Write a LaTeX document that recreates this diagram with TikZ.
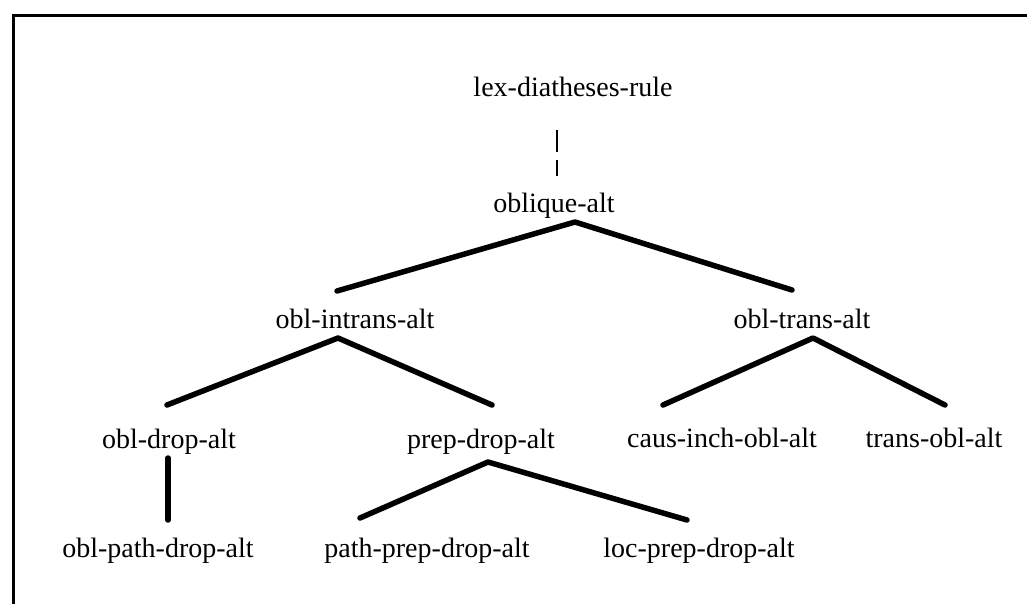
\documentclass[tikz,border=0pt]{standalone}
\usepackage{fontspec}
\setmainfont{Liberation Serif}
\begin{document}
\begin{tikzpicture}[x=1pt,y=-1pt,
  lbl/.style={inner sep=0pt,anchor=base,font=\fontsize{28}{30}\selectfont},
  edge/.style={line width=5.5pt,line cap=round,line join=round},
  thinedge/.style={line width=2pt,dash pattern=on 22pt off 8pt},
  frame/.style={line width=3pt}]
\useasboundingbox (0,0) rectangle (1027,604);
% frame (top and left edges)
\coordinate (ftr) at (1030,16);
\coordinate (ftl) at (13,16);
\coordinate (fbl) at (13,607);
\draw[frame] (ftr) -- (ftl) -- (fbl);
% nodes
\node[lbl] (lex) at (573,97) {lex-diatheses-rule};
\node[lbl] (obl) at (554,212) {oblique-alt};
\node[lbl] (intr) at (355,328) {obl-intrans-alt};
\node[lbl] (tr) at (802,328) {obl-trans-alt};
\node[lbl] (drop) at (169,448) {obl-drop-alt};
\node[lbl] (prep) at (481,448) {prep-drop-alt};
\node[lbl] (caus) at (722,447) {caus-inch-obl-alt};
\node[lbl] (tobl) at (934,447) {trans-obl-alt};
\node[lbl] (pdrop) at (158,557) {obl-path-drop-alt};
\node[lbl] (pprep) at (427,557) {path-prep-drop-alt};
\node[lbl] (lprep) at (699,557) {loc-prep-drop-alt};
% connector points
\coordinate (lexB) at (557,130);
\coordinate (oblT) at (557,176);
\coordinate (oblA) at (575,222);
\coordinate (intrT) at (337,291);
\coordinate (trT) at (792,290);
\coordinate (intrA) at (338,338);
\coordinate (dropT) at (167,405);
\coordinate (prepT) at (492,405);
\coordinate (trA) at (813,338);
\coordinate (causT) at (663,405);
\coordinate (toblT) at (945,405);
\coordinate (dropB) at (168,458);
\coordinate (pdropT) at (168,520);
\coordinate (prepA) at (488,462);
\coordinate (pprepT) at (360,518);
\coordinate (lprepT) at (687,520);
% connectors
\draw[thinedge] (lexB) -- (oblT);
\draw[edge] (intrT) -- (oblA) -- (trT);
\draw[edge] (dropT) -- (intrA) -- (prepT);
\draw[edge] (causT) -- (trA) -- (toblT);
\draw[edge] (dropB) -- (pdropT);
\draw[edge] (pprepT) -- (prepA) -- (lprepT);
\end{tikzpicture}
\end{document}
